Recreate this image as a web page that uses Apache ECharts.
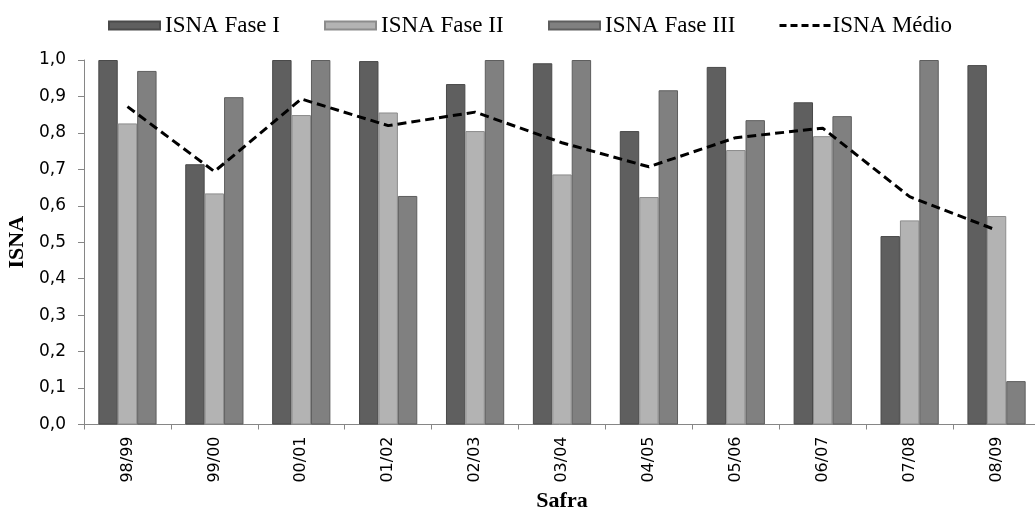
<!DOCTYPE html>
<html>
<head>
<meta charset="utf-8">
<script src="https://cdn.jsdelivr.net/npm/echarts@6/dist/echarts.min.js"></script>
<style>html,body{margin:0;padding:0;background:#fff}#c{width:1035px;height:516px}</style>
</head>
<body>
<div id="c"></div>
<script>
const categories = ['98/99','99/00','00/01','01/02','02/03','03/04','04/05','05/06','06/07','07/08','08/09'];
const faseI   = [1.000, 0.714, 1.000, 0.997, 0.934, 0.991, 0.805, 0.981, 0.884, 0.517, 0.986];
const faseII  = [0.826, 0.634, 0.849, 0.856, 0.805, 0.686, 0.624, 0.753, 0.791, 0.560, 0.572];
const faseIII = [0.970, 0.898, 1.000, 0.627, 1.000, 1.000, 0.917, 0.835, 0.846, 1.000, 0.119];
const medio   = [0.872, 0.694, 0.893, 0.820, 0.857, 0.773, 0.707, 0.787, 0.813, 0.625, 0.533];
const seriesNames = ['ISNA Fase I', 'ISNA Fase II', 'ISNA Fase III', 'ISNA Médio'];

const serif = '"Liberation Serif", "Times New Roman", serif';
const sans = '"DejaVu Sans", Verdana, sans-serif';
const chart = echarts.init(document.getElementById('c'), null, {renderer: 'canvas'});
function bar(name, data, color, border) {
  return {
    name, type: 'bar', data, barGap: '0%', barCategoryGap: '33%',
    itemStyle: {color, borderColor: border, borderWidth: 1},
    emphasis: {disabled: true}
  };
}
const legendLeft = [103, 319, 543, 773];
const legends = seriesNames.map((n, i) => ({
  top: 9, left: legendLeft[i], itemWidth: i === 3 ? 53 : 51, itemHeight: i === 3 ? 14 : 8, itemGap: 0,
  icon: i === 3 ? undefined : 'rect',
  textStyle: {fontFamily: serif, fontSize: 23, color: '#000', padding: [0, 0, 0, i === 3 ? -5 : 0]},
  data: i === 3
    ? [{name: n, itemStyle: {color: 'rgba(0,0,0,0)', borderColor: 'rgba(0,0,0,0)', borderWidth: 0},
        lineStyle: {type: [7, 4], width: 3, color: '#000'}}]
    : [n]
}));
chart.setOption({
  animation: false,
  legend: legends,
  grid: {left: 84, top: 60, width: 956, height: 364.5, containLabel: false, outerBoundsMode: 'none'},
  xAxis: {
    type: 'category', data: categories,
    name: 'Safra', nameLocation: 'middle', nameGap: 64,
    nameTextStyle: {fontFamily: serif, fontSize: 22, fontWeight: 'bold', color: '#000'},
    axisLine: {lineStyle: {color: '#868686', width: 1}},
    axisTick: {show: true, length: 5, lineStyle: {color: '#868686'}},
    axisLabel: {rotate: 90, fontFamily: sans, fontSize: 16, color: '#000', margin: 12}
  },
  yAxis: {
    type: 'value', min: 0, max: 1, interval: 0.1,
    name: 'ISNA', nameLocation: 'middle', nameGap: 52, nameRotate: 90,
    nameTextStyle: {fontFamily: serif, fontSize: 22, fontWeight: 'bold', color: '#000'},
    axisLine: {show: true, lineStyle: {color: '#868686', width: 1}},
    axisTick: {show: true, length: 6, lineStyle: {color: '#868686'}},
    splitLine: {show: false},
    axisLabel: {fontFamily: sans, fontSize: 17, color: '#000', margin: 18,
      formatter: v => v.toFixed(1).replace('.', ',')}
  },
  series: [
    bar(seriesNames[0], faseI, '#5f5f5f', '#4a4a4a'),
    bar(seriesNames[1], faseII, '#b3b3b3', '#8c8c8c'),
    bar(seriesNames[2], faseIII, '#808080', '#5e5e5e'),
    {
      name: seriesNames[3], type: 'line', data: medio, symbol: 'circle', showSymbol: false,
      lineStyle: {color: '#000', width: 3, type: [9, 5]},
      itemStyle: {color: '#000'}, emphasis: {disabled: true}
    }
  ]
});
</script>
</body>
</html>
